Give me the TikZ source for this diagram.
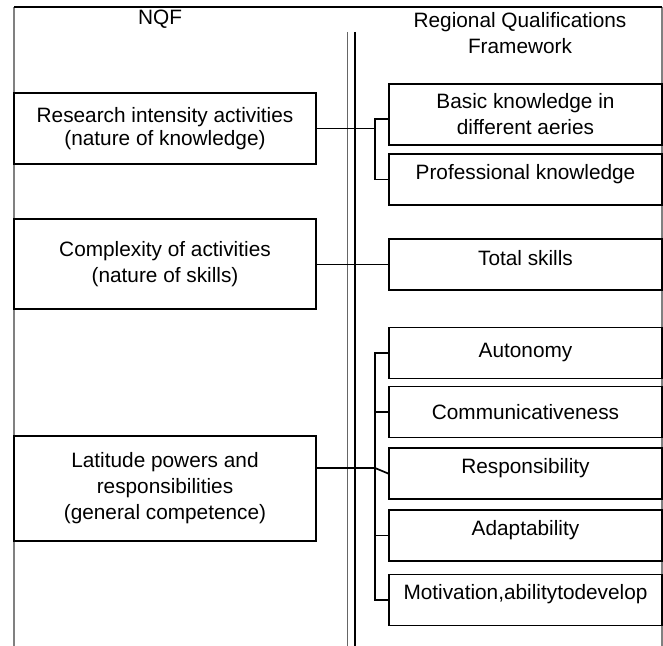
\documentclass[tikz,border=0pt]{standalone}
\usepackage{fontspec}
\setmainfont{Liberation Sans}
\usetikzlibrary{calc}

\tikzset{
  boxline/.style={line width=0.85pt},
  nqfbox/.style={draw, boxline, minimum width=151pt, align=center, inner sep=0pt},
  rqfbox/.style={draw, boxline, minimum width=136.5pt, minimum height=25.5pt, align=center, inner sep=0pt},
  lifted/.style={text depth=8pt},
  link/.style={line width=0.85pt}
}

\begin{document}
\begin{tikzpicture}[x=0.5pt, y=-0.5pt, font=\fontsize{10.4}{13}\selectfont]
    \useasboundingbox (0,0) rectangle (663,646);

    % frame and divider
    \draw [line width=0.6pt, gray] (14,646) -- (14,7);
    \draw [line width=0.6pt, gray] (662,7) -- (662,646);
    \draw [line width=0.6pt] (14,7) -- (662,7);
    \draw [line width=0.5pt, gray!80!black] (347,32) -- (347,646);
    \draw [line width=0.9pt] (355,32) -- (355,646);

    % headings
    \node (nqf) at (160,19) {NQF};
    \node[align=center] (rqf) at (520,33) {Regional Qualifications\\Framework};

    % NQF side
    \node[nqfbox, minimum height=35.5pt, font=\fontsize{10.4}{11.5}\selectfont]
        (research) at (165,128.5)
        {Research intensity activities\\(nature of knowledge)};
    \node[nqfbox, minimum height=45pt] (complex) at (165,264)
        {Complexity of activities\\(nature of skills)};
    \node[nqfbox, minimum height=52.5pt] (latitude) at (165,488.5)
        {Latitude powers and\\responsibilities\\(general competence)};

    % regional side
    \node[rqfbox, minimum height=30.5pt] (basic) at (525.5,114.5)
        {Basic knowledge in\\different aeries};
    \node[rqfbox, lifted] (prof) at (525.5,179.5) {Professional knowledge};
    \node[rqfbox, text depth=7pt] (total) at (525.5,264.5) {Total skills};
    \node[rqfbox] (auto) at (525.5,353) {Autonomy};
    \node[rqfbox] (comm) at (525.5,412) {Communicativeness};
    \node[rqfbox, lifted] (resp) at (525.5,473.5) {Responsibility};
    \node[rqfbox, lifted] (adapt) at (525.5,535.5) {Adaptability};
    \node[rqfbox, lifted] (motiv) at (525.5,600) {Motivation,abilitytodevelop};

    % connectors
    \coordinate (upbus) at (375,119);
    \coordinate (lowbus) at (375,468);

    \draw [link] (research.east) -- (research.east -| upbus);
    \draw [link] (basic.west |- upbus) -- (upbus) -- (upbus |- prof.west)
        -- (prof.west);

    \draw [link] (complex.east) -- (total.west -| complex.east) -- (total.west);

    \draw [link] (latitude.east |- lowbus) -- (lowbus);
    \draw [link] (auto.west) -- (auto.west -| lowbus) -- (lowbus |- motiv.west)
        -- (motiv.west);
    \draw [link] (comm.west) -- (comm.west -| lowbus);
    \draw [link] (adapt.west) -- (adapt.west -| lowbus);
    \draw [link] (lowbus) -- (resp.west);
\end{tikzpicture}
\end{document}
